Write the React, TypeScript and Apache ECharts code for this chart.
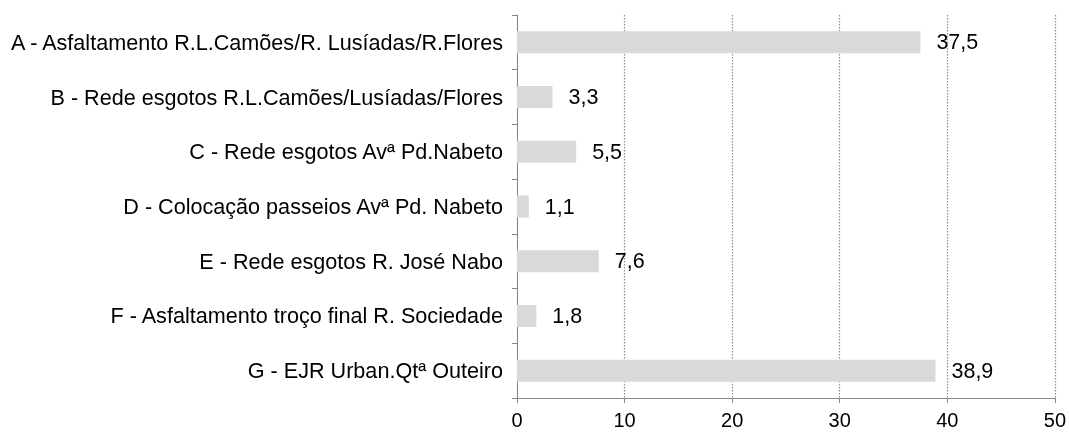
import React, { useEffect, useRef } from "react";
import * as echarts from "echarts";

const categories = [
  "A - Asfaltamento R.L.Camões/R. Lusíadas/R.Flores",
  "B - Rede esgotos R.L.Camões/Lusíadas/Flores",
  "C - Rede esgotos Avª Pd.Nabeto",
  "D - Colocação passeios Avª Pd. Nabeto",
  "E - Rede esgotos R. José Nabo",
  "F - Asfaltamento troço final R. Sociedade",
  "G - EJR Urban.Qtª Outeiro",
];
const values = [37.5, 3.3, 5.5, 1.1, 7.6, 1.8, 38.9];
const xMin = 0;
const xMax = 50;
const xInterval = 10;

export default function App() {
  const ref = useRef<HTMLDivElement>(null);
  useEffect(() => {
    if (!ref.current) return;
    const chart = echarts.init(ref.current, undefined, { renderer: "svg" });
    const font = "'Liberation Sans', Arial, sans-serif";
    chart.setOption({
      animation: false,
      grid: { left: 517, right: 13, top: 15, bottom: 34, containLabel: false },
      xAxis: {
        type: "value",
        min: xMin,
        max: xMax,
        interval: xInterval,
        axisLine: { show: true, lineStyle: { color: "#868686", width: 1 } },
        axisTick: { show: true, length: 5, lineStyle: { color: "#868686" } },
        axisLabel: { color: "#000", fontSize: 20, fontFamily: font, margin: 12 },
        splitLine: { show: true, lineStyle: { color: "#8f8f8f", type: [1.5, 1.5], width: 1.2 } },
      },
      yAxis: {
        type: "category",
        inverse: true,
        data: categories,
        axisLine: { show: true, lineStyle: { color: "#868686", width: 1 } },
        axisTick: { show: true, length: 5, alignWithLabel: false, lineStyle: { color: "#868686" } },
        axisLabel: { color: "#000", fontSize: 21.6, fontFamily: font, margin: 14 },
        splitLine: { show: false },
      },
      series: [
        {
          type: "bar",
          data: values,
          barWidth: 22,
          itemStyle: { color: "#d9d9d9" },
          label: {
            show: true,
            position: "right",
            distance: 16,
            color: "#000",
            fontSize: 21.5,
            fontFamily: font,
            formatter: (p: any) => String(p.value).replace(".", ","),
          },
        },
      ],
    });
    return () => chart.dispose();
  }, []);
  return (
    <div
      ref={ref}
      style={{ position: "fixed", left: 0, top: 0, width: 1069, height: 432 }}
    />
  );
}
